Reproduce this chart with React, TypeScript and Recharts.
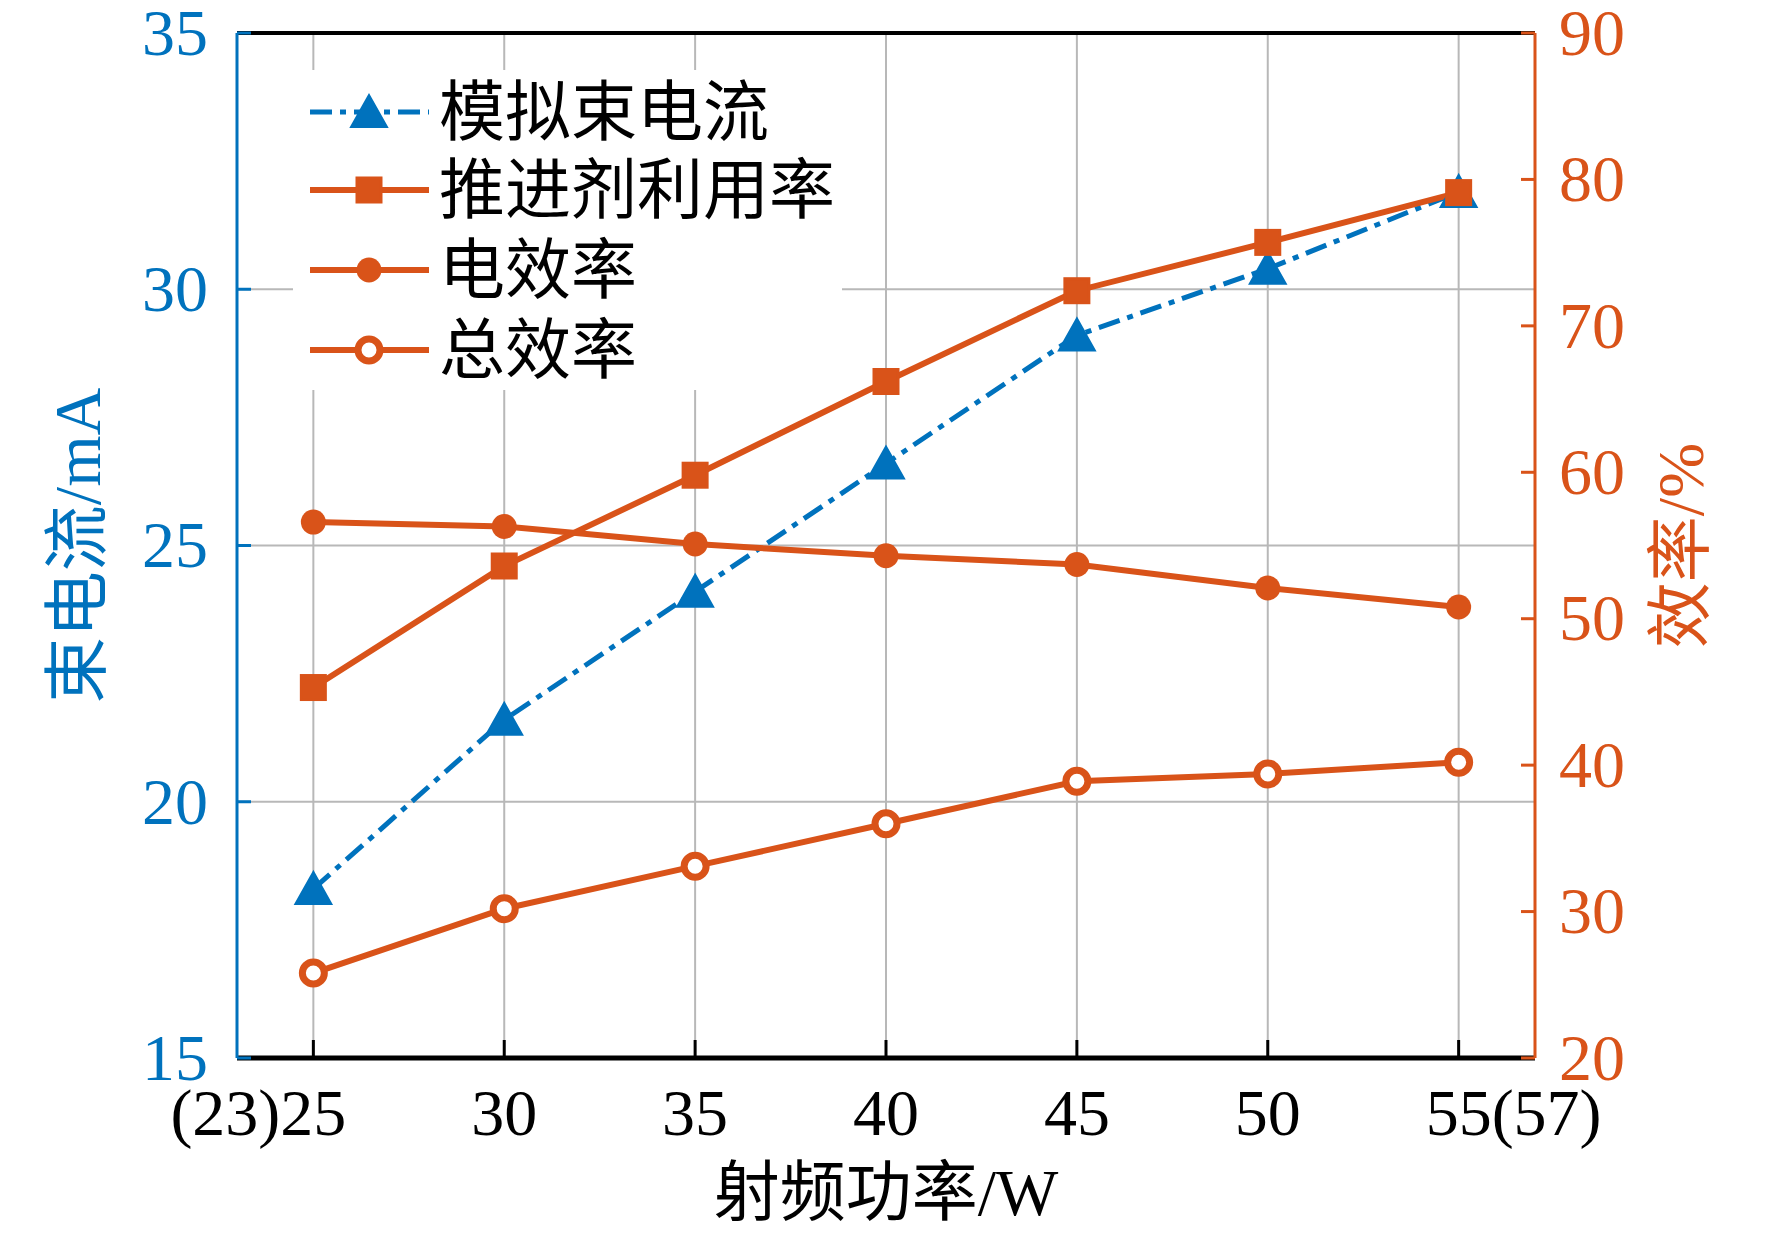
import React from 'react';
import { LineChart, Line, XAxis, YAxis, CartesianGrid, Legend } from 'recharts';

const power = [25, 30, 35, 40, 45, 50, 55];
const beamCurrent = [18.3, 21.6, 24.1, 26.6, 29.1, 30.4, 31.9];
const propellantUtil = [45.3, 53.6, 59.8, 66.2, 72.4, 75.7, 79.1];
const electricalEff = [56.6, 56.3, 55.1, 54.3, 53.7, 52.1, 50.8];
const totalEff = [25.8, 30.2, 33.1, 36.0, 38.9, 39.4, 40.2];

const xTicks = [25, 30, 35, 40, 45, 50, 55];
const leftTicks = [15, 20, 25, 30, 35];
const rightTicks = [20, 30, 40, 50, 60, 70, 80, 90];
const seriesNames = ['模拟束电流', '推进剂利用率', '电效率', '总效率'];

const BLUE = '#0072BD';
const ORANGE = '#D95319';
const SERIF = '"Liberation Serif", "Times New Roman", serif';
const CJK = '"Liberation Serif", "Noto Sans CJK SC", serif';

const data = power.map((p, i) => ({
  x: p,
  beam: beamCurrent[i],
  prop: propellantUtil[i],
  elec: electricalEff[i],
  total: totalEff[i],
}));

const Triangle = ({ cx, cy }: { cx: number; cy: number }) => (
  <polygon
    points={`${cx},${cy - 17} ${cx - 18},${cy + 15} ${cx + 18},${cy + 15}`}
    fill={BLUE}
    stroke={BLUE}
    strokeWidth={2}
  />
);

const Square = ({ cx, cy }: { cx: number; cy: number }) => (
  <rect x={cx - 12} y={cy - 12} width={24} height={24} fill={ORANGE} stroke={ORANGE} strokeWidth={3} />
);

const Dot = ({ cx, cy }: { cx: number; cy: number }) => <circle cx={cx} cy={cy} r={12.5} fill={ORANGE} />;

const Ring = ({ cx, cy }: { cx: number; cy: number }) => (
  <circle cx={cx} cy={cy} r={11} fill="#fff" stroke={ORANGE} strokeWidth={7} />
);

const markers = [Triangle, Square, Dot, Ring];

const dotFor = (M: any) => (props: any) => {
  if (props.cx == null || props.cy == null) return <g key={`e-${props.index}`} />;
  return (
    <g key={`m-${props.index}`}>
      <M cx={props.cx} cy={props.cy} />
    </g>
  );
};

const XTick = (props: any) => {
  const { x, y, payload } = props;
  const v = payload.value;
  let text = String(v);
  let anchor: 'start' | 'middle' | 'end' = 'middle';
  let tx = x;
  if (v === 25) {
    text = '(23)25';
    anchor = 'end';
    tx = x + 33;
  } else if (v === 55) {
    text = '55(57)';
    anchor = 'start';
    tx = x - 33;
  }
  return (
    <text x={tx} y={y} dy="0.33em" textAnchor={anchor} fontSize={66} fontFamily={SERIF} fill="#000">
      {text}
    </text>
  );
};

const LeftTick = (props: any) => (
  <text x={props.x} y={props.y} dy="0.33em" textAnchor="end" fontSize={66} fontFamily={SERIF} fill={BLUE}>
    {props.payload.value}
  </text>
);

const RightTick = (props: any) => (
  <text x={props.x} y={props.y} dy="0.33em" textAnchor="start" fontSize={66} fontFamily={SERIF} fill={ORANGE}>
    {props.payload.value}
  </text>
);

const legendRows = [42, 120, 200, 280];

const renderLegend = () => (
  <svg width={549} height={320} style={{ display: 'block' }}>
    <rect x={0} y={0} width={549} height={320} fill="#fff" />
    {seriesNames.map((name, i) => {
      const y = legendRows[i];
      const M = markers[i];
      return (
        <g key={name}>
          <line
            x1={17}
            x2={136}
            y1={y}
            y2={y}
            stroke={i === 0 ? BLUE : ORANGE}
            strokeWidth={i === 0 ? 5 : 6}
            strokeDasharray={i === 0 ? '22 8 6 8' : undefined}
          />
          <M cx={76} cy={y} />
          <text x={146} y={y} dominantBaseline="central" fontSize={66} fontFamily={CJK} fill="#000">
            {name}
          </text>
        </g>
      );
    })}
  </svg>
);

const LeftTitle = (props: any) => {
  const { x, y, height } = props.viewBox;
  const cx = x + 69;
  const cy = y + height / 2;
  return (
    <text x={cx} y={cy} transform={`rotate(-90 ${cx} ${cy})`} textAnchor="middle" dominantBaseline="central" fontSize={66} fontFamily={CJK} fill={BLUE}>
      束电流/mA
    </text>
  );
};

const RightTitle = (props: any) => {
  const { x, y, height } = props.viewBox;
  const cx = x + 145;
  const cy = y + height / 2;
  return (
    <text x={cx} y={cy} transform={`rotate(-90 ${cx} ${cy})`} textAnchor="middle" dominantBaseline="central" fontSize={66} fontFamily={CJK} fill={ORANGE}>
      效率/%
    </text>
  );
};

const BottomTitle = (props: any) => {
  const { x, y, width } = props.viewBox;
  return (
    <text x={x + width / 2} y={y + 134} textAnchor="middle" dominantBaseline="central" fontSize={66} fontFamily={CJK} fill="#000">
      射频功率/W
    </text>
  );
};

const App: React.FC = () => {
  return (
    <div style={{ width: 1756, height: 1219, background: '#fff' }}>
      <LineChart width={1756} height={1219} data={data} margin={{ top: 24, right: 0, bottom: 0, left: 0 }}>
        <CartesianGrid xAxisId="bottom" yAxisId="left" stroke="#b8b8b8" strokeWidth={2} />
        <XAxis
          xAxisId="bottom"
          dataKey="x"
          type="number"
          domain={[23, 57]}
          ticks={xTicks}
          height={169}
          axisLine={{ stroke: '#000', strokeWidth: 5 }}
          tickLine={{ stroke: '#000', strokeWidth: 3 }}
          tickSize={-18}
          tickMargin={73}
          tick={<XTick />}
          label={<BottomTitle />}
          allowDataOverflow
        />
        <XAxis
          xAxisId="top"
          orientation="top"
          dataKey="x"
          type="number"
          domain={[23, 57]}
          ticks={xTicks}
          height={1}
          axisLine={{ stroke: '#000', strokeWidth: 4 }}
          tickLine={{ stroke: '#000', strokeWidth: 3 }}
          tickSize={-18}
          tick={false}
          allowDataOverflow
        />
        <YAxis
          yAxisId="left"
          type="number"
          domain={[15, 35]}
          ticks={leftTicks}
          width={229}
          axisLine={{ stroke: BLUE, strokeWidth: 3 }}
          tickLine={{ stroke: BLUE, strokeWidth: 3 }}
          tickSize={-14}
          tickMargin={43}
          tick={<LeftTick />}
          label={<LeftTitle />}
          allowDataOverflow
        />
        <YAxis
          yAxisId="right"
          orientation="right"
          type="number"
          domain={[20, 90]}
          ticks={rightTicks}
          width={229}
          axisLine={{ stroke: ORANGE, strokeWidth: 3 }}
          tickLine={{ stroke: ORANGE, strokeWidth: 3 }}
          tickSize={-14}
          tickMargin={38}
          tick={<RightTick />}
          label={<RightTitle />}
          allowDataOverflow
        />
        <Legend
          layout="vertical"
          align="center"
          verticalAlign="middle"
          content={renderLegend}
          wrapperStyle={{ left: 285, top: 62, width: 549, height: 320, margin: 0 }}
        />
        <Line
          xAxisId="bottom"
          yAxisId="left"
          name={seriesNames[0]}
          dataKey="beam"
          type="linear"
          stroke={BLUE}
          strokeWidth={5}
          strokeDasharray="22 8 6 8"
          dot={dotFor(Triangle)}
          activeDot={false}
          isAnimationActive={false}
        />
        <Line
          xAxisId="bottom"
          yAxisId="right"
          name={seriesNames[1]}
          dataKey="prop"
          type="linear"
          stroke={ORANGE}
          strokeWidth={6}
          dot={dotFor(Square)}
          activeDot={false}
          isAnimationActive={false}
        />
        <Line
          xAxisId="bottom"
          yAxisId="right"
          name={seriesNames[2]}
          dataKey="elec"
          type="linear"
          stroke={ORANGE}
          strokeWidth={6}
          dot={dotFor(Dot)}
          activeDot={false}
          isAnimationActive={false}
        />
        <Line
          xAxisId="bottom"
          yAxisId="right"
          name={seriesNames[3]}
          dataKey="total"
          type="linear"
          stroke={ORANGE}
          strokeWidth={6}
          dot={dotFor(Ring)}
          activeDot={false}
          isAnimationActive={false}
        />
      </LineChart>
    </div>
  );
};

export default App;
